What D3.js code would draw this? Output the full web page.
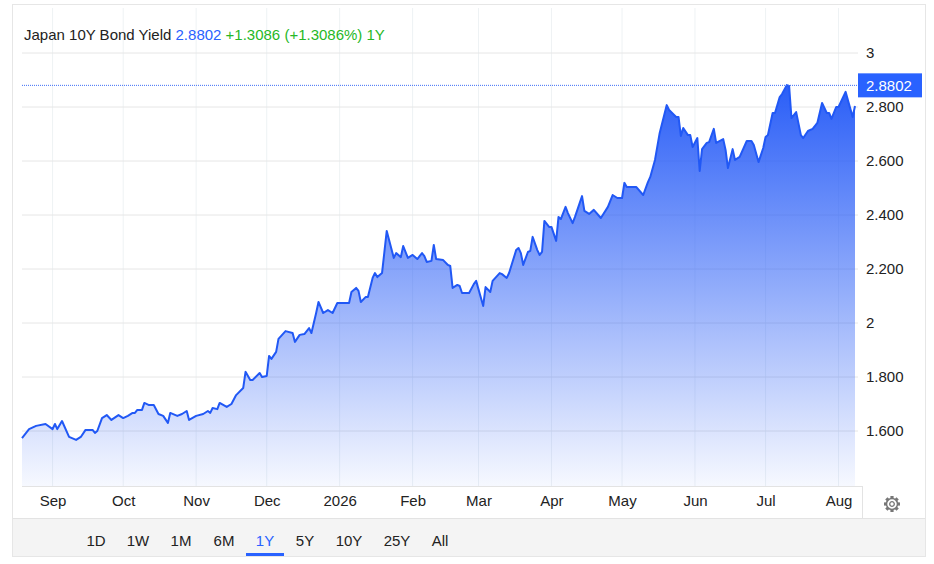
<!DOCTYPE html>
<html>
<head>
<meta charset="utf-8">
<script src="https://cdn.jsdelivr.net/npm/d3@7"></script>
<style>
  body { margin: 0; background: #fff; font-family: "Liberation Sans", Arial, sans-serif; }
</style>
</head>
<body>
<div id="chart"></div>
<script>
// Data: day offset from start, yield value
const startDate = new Date(2025, 7, 19);
const days = [0,3,6,10,13,14,15,17,20,23,25,27,30,31,32,34,36,38,41,43,45,47,48,49,51,52,54,56,58,60,62,63,66,68,70,71,74,77,79,80,81,83,84,87,89,91,94,95,97,98,101,102,104,105,106,108,109,112,115,116,118,120,122,123,125,
  126,128,130,132,134,139,140,142,143,144,146,147,149,150,151,153,155,158,159,161,162,164,166,168,170,171,172,174,175,176,179,181,182,183,185,186,187,190,192,193,196,197,199,200,203,204,206,207,210,211,212,213,215,216,217,219,220,221,222,224,225,227,228,229,231,232,234,235,238,239,241,243,246,249,251,253,255,256,257,261,264,266,267,269,271,274,275,278,279,280,281,283,284,285,287,288,289,291,292,294,295,298,299,300,302,303,305,308,310,311,313,315,316,317,319,320,322,323,325,326,327,329,331,332,334,336,338,340,342,343,344,346,347,350,353,354];
const yields = [1.574,1.607,1.619,1.626,1.607,1.626,1.607,1.637,1.578,1.567,1.578,1.604,1.604,1.593,1.600,1.648,1.659,1.641,1.659,1.648,1.656,1.667,1.667,1.678,1.678,1.704,1.696,1.696,1.663,1.656,1.630,1.667,1.656,1.663,1.674,1.641,1.656,1.663,1.674,1.667,1.685,1.681,1.704,1.689,1.700,1.733,1.759,1.819,1.789,1.789,1.815,1.800,1.804,1.878,1.867,1.893,1.941,1.970,1.963,1.930,1.956,1.959,1.981,1.963,2.037,
  2.078,2.037,2.048,2.037,2.074,2.074,2.115,2.130,2.119,2.078,2.096,2.096,2.167,2.185,2.170,2.185,2.341,2.241,2.259,2.244,2.285,2.241,2.252,2.237,2.259,2.248,2.226,2.230,2.289,2.237,2.233,2.215,2.211,2.130,2.141,2.137,2.111,2.111,2.144,2.156,2.063,2.133,2.115,2.156,2.185,2.181,2.167,2.185,2.270,2.278,2.259,2.215,2.263,2.267,2.319,2.270,2.252,2.263,2.378,2.356,2.356,2.304,2.393,2.385,2.430,2.407,2.370,2.393,2.470,2.415,2.404,2.419,2.389,2.430,2.474,2.463,2.463,2.519,2.504,2.504,2.474,2.522,2.541,2.604,2.704,2.807,2.789,2.763,2.763,2.693,2.722,2.696,2.696,2.652,2.685,2.563,2.644,2.667,2.670,2.719,2.667,2.681,2.641,2.574,2.644,2.604,2.615,2.674,2.674,2.659,2.596,2.648,2.689,2.696,2.778,2.778,2.837,2.848,2.881,2.878,2.759,2.781,2.696,2.685,2.711,2.719,2.741,2.815,2.778,2.778,2.756,2.800,2.800,2.856,2.763,2.804];
const yTicks = [1.6, 1.8, 2, 2.2, 2.4, 2.6, 2.8, 3];
const lastValue = 2.8802;
const ranges = ["1D","1W","1M","6M","1Y","5Y","10Y","25Y","All"];
const activeRange = "1Y";

const data = days.map((d, i) => ({ date: d3.timeDay.offset(startDate, d), value: yields[i] }));

const W = 934, H = 564;
const plot = { left: 22, right: 858, top: 8, bottom: 486 };

const svg = d3.select("#chart").append("svg").attr("width", W).attr("height", H)
  .style("font-family", '"Liberation Sans", Arial, sans-serif');

// Card frame + bottom bar
svg.append("rect").attr("x", 12.5).attr("y", 4.5).attr("width", 913).attr("height", 552)
  .attr("fill", "#fff").attr("stroke", "#e6e6e6");
svg.append("rect").attr("x", 13).attr("y", 518).attr("width", 912).attr("height", 38).attr("fill", "#f4f4f4");
svg.append("line").attr("x1", 13).attr("x2", 925).attr("y1", 518.5).attr("y2", 518.5).attr("stroke", "#e3e3e3");

// Scales
const x = d3.scaleTime()
  .domain([startDate, d3.timeDay.offset(startDate, 354)])
  .range([plot.left, 855]);
const y = d3.scaleLinear().domain([2, 3]).range([323, 53]);

// Grid
const months = d3.timeMonth.range(d3.timeMonth.ceil(startDate), x.domain()[1]);
svg.append("g").selectAll("line").data(months).enter().append("line")
  .attr("x1", d => x(d)).attr("x2", d => x(d)).attr("y1", plot.top).attr("y2", plot.bottom)
  .attr("stroke", "#eef2f4");
svg.append("g").selectAll("line").data(yTicks).enter().append("line")
  .attr("x1", plot.left).attr("x2", plot.right).attr("y1", d => y(d)).attr("y2", d => y(d))
  .attr("stroke", "#e6e6e6");

// Area gradient
const grad = svg.append("defs").append("linearGradient").attr("id", "fillGrad")
  .attr("x1", 0).attr("y1", 0).attr("x2", 0).attr("y2", 1);
grad.append("stop").attr("offset", "0%").attr("stop-color", "#2a5ef7").attr("stop-opacity", 1);
grad.append("stop").attr("offset", "100%").attr("stop-color", "#2a5ef7").attr("stop-opacity", 0.04);

const area = d3.area().x(d => x(d.date)).y0(plot.bottom).y1(d => y(d.value));
const line = d3.line().x(d => x(d.date)).y(d => y(d.value));

svg.append("path").datum(data).attr("d", area).attr("fill", "url(#fillGrad)")
  .attr("transform", null);
svg.append("path").datum(data).attr("d", line).attr("fill", "none")
  .attr("stroke", "#2158f5").attr("stroke-width", 2).attr("stroke-linejoin", "round");

// Axis base line
svg.append("line").attr("x1", plot.left).attr("x2", 862).attr("y1", plot.bottom + 0.5).attr("y2", plot.bottom + 0.5)
  .attr("stroke", "#e3e3e3");
svg.append("line").attr("x1", 862.5).attr("x2", 862.5).attr("y1", plot.bottom).attr("y2", 518)
  .attr("stroke", "#e3e3e3");

// Last value dotted line + badge
svg.append("line").attr("x1", plot.left).attr("x2", plot.right).attr("y1", y(lastValue)).attr("y2", y(lastValue))
  .attr("stroke", "#3d6df5").attr("stroke-dasharray", "1,1");

// Y axis labels (right)
const yAxis = svg.append("g").attr("transform", `translate(${plot.right},0)`)
  .call(d3.axisRight(y).tickValues(yTicks).tickSize(0).tickPadding(8)
    .tickFormat(d => d === 2 || d === 3 ? d3.format("d")(d) : d3.format(".3f")(d)));
yAxis.select(".domain").remove();
yAxis.selectAll("text").attr("font-size", 15).attr("fill", "#222").attr("font-family", '"Liberation Sans", Arial, sans-serif');

svg.append("rect").attr("x", 858).attr("y", y(lastValue) - 12).attr("width", 64).attr("height", 24).attr("fill", "#2962ff");
svg.append("text").attr("x", 866).attr("y", y(lastValue)).attr("dy", "0.35em").attr("font-size", 15)
  .attr("fill", "#fff").text(d3.format(".4f")(lastValue));

// X axis labels
const xAxis = svg.append("g").attr("transform", `translate(0,${plot.bottom})`)
  .call(d3.axisBottom(x).tickValues(months).tickSize(0).tickPadding(9)
    .tickFormat(d => d.getMonth() === 0 ? d3.timeFormat("%Y")(d) : d3.timeFormat("%b")(d)));
xAxis.select(".domain").remove();
xAxis.selectAll("text").attr("font-size", 15).attr("fill", "#222").attr("font-family", '"Liberation Sans", Arial, sans-serif');

// Gear icon
const gear = svg.append("g").attr("transform", "translate(892,504)");
gear.selectAll("rect").data(d3.range(8)).enter().append("rect")
  .attr("x", -1.6).attr("y", -8).attr("width", 3.2).attr("height", 4).attr("fill", "#777")
  .attr("transform", d => `rotate(${d * 45})`);
gear.append("circle").attr("r", 5.5).attr("fill", "#fff").attr("stroke", "#777").attr("stroke-width", 1.5);
gear.append("circle").attr("r", 2.3).attr("fill", "#fff").attr("stroke", "#777").attr("stroke-width", 1.3);

// Title
const title = svg.append("text").attr("x", 24).attr("y", 40).attr("font-size", 15);
title.append("tspan").attr("fill", "#222").text("Japan 10Y Bond Yield ");
title.append("tspan").attr("fill", "#2962ff").text("2.8802 ");
title.append("tspan").attr("fill", "#26b826").text("+1.3086 (+1.3086%) 1Y");

// Range buttons
const rangeX = d3.scalePoint().domain(ranges).range([96, 440]);
const btnPos = { "1D": 96, "1W": 138, "1M": 181, "6M": 224, "1Y": 265, "5Y": 305, "10Y": 349, "25Y": 397, "All": 440 };
svg.append("g").selectAll("text").data(ranges).enter().append("text")
  .attr("x", d => btnPos[d]).attr("y", 546).attr("text-anchor", "middle").attr("font-size", 15)
  .attr("fill", d => d === activeRange ? "#2962ff" : "#222").text(d => d);
svg.append("rect").attr("x", btnPos[activeRange] - 19).attr("y", 553).attr("width", 38).attr("height", 3).attr("fill", "#2962ff");
</script>
</body>
</html>
